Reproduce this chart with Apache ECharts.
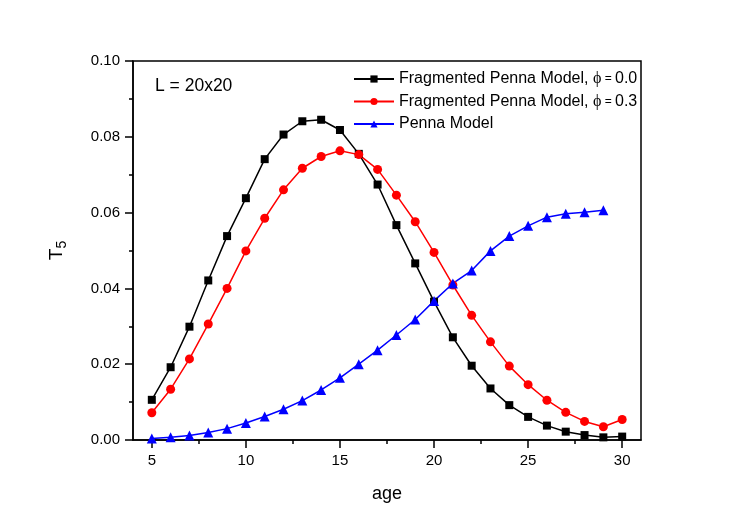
<!DOCTYPE html>
<html>
<head>
<meta charset="utf-8">
<script src="https://cdn.jsdelivr.net/npm/echarts@6/dist/echarts.min.js"></script>
<style>
  html, body { margin: 0; padding: 0; background: #fff; }
  #chart { width: 747px; height: 528px; }
</style>
</head>
<body>
<div id="chart"></div>
<script>
  // data
  var ages = [5, 6, 7, 8, 9, 10, 11, 12, 13, 14, 15, 16, 17, 18, 19, 20, 21, 22, 23, 24, 25, 26, 27, 28, 29, 30];
  var frag00 = [0.0106, 0.0192, 0.0299, 0.0421, 0.0538, 0.0638, 0.0741, 0.0806, 0.0841, 0.0845, 0.0818, 0.0755, 0.0674,
    0.0567, 0.0466, 0.0365, 0.0271, 0.0196, 0.0136, 0.0092, 0.0061, 0.0038, 0.0022, 0.0013, 0.0007, 0.0009];
  var frag03 = [0.0072, 0.0134, 0.0214, 0.0306, 0.0400, 0.0499, 0.0585, 0.0660, 0.0717, 0.0748, 0.0763, 0.0753, 0.0714,
    0.0646, 0.0576, 0.0495, 0.0409, 0.0329, 0.0259, 0.0195, 0.0146, 0.0105, 0.0073, 0.0049, 0.0035, 0.0054];
  var penna = [0.0004, 0.0007, 0.0012, 0.0020, 0.0030, 0.0045, 0.0062, 0.0081, 0.0104, 0.0132, 0.0164, 0.0200, 0.0237,
    0.0277, 0.0318, 0.0367, 0.0413, 0.0447, 0.0499, 0.0538, 0.0565, 0.0588, 0.0597, 0.0601, 0.0606];
  var xMajor = [5, 10, 15, 20, 25, 30];
  var xMinor = [7.5, 12.5, 17.5, 22.5, 27.5];

  var names = ['Fragmented Penna Model, ϕ = 0.0', 'Fragmented Penna Model, ϕ = 0.3', 'Penna Model'];

  function pairs(vals) {
    return vals.map(function (v, i) { return [ages[i], v]; });
  }

  var chart = echarts.init(document.getElementById('chart'));
  var font = 'Liberation Sans, Arial, sans-serif';

  var option = {
    animation: false,
    textStyle: { fontFamily: font, color: '#000' },
    grid: {
      left: 133, right: 106, top: 61, bottom: 88,
      show: true, borderColor: '#000', borderWidth: 1.5
    },
    graphic: [{
      type: 'text', left: 155, top: 77,
      style: { text: 'L = 20x20', fontSize: 17.5, fontFamily: font, fill: '#000' }
    }],
    legend: {
      orient: 'vertical',
      left: 353, top: 71, padding: 0,
      itemWidth: 40, itemHeight: 9, itemGap: 6.5,
      textStyle: {
        fontSize: 16, color: '#000', fontFamily: font,
        rich: {
          f: { fontSize: 16, fontFamily: 'Liberation Serif, DejaVu Serif, serif' },
          e: { fontSize: 12, fontFamily: font }
        }
      },
      formatter: function (n) { return n.replace('ϕ = ', '{f|ϕ}{e| = }'); },
      data: names
    },
    xAxis: [{
      type: 'value', min: 4, max: 31, position: 'bottom',
      name: 'age', nameLocation: 'middle', nameGap: 45,
      nameTextStyle: { fontSize: 18, color: '#000' },
      splitLine: { show: false },
      axisLine: { lineStyle: { color: '#000', width: 1.5 } },
      axisTick: { customValues: xMajor, length: 8, lineStyle: { color: '#000', width: 1.5 } },
      axisLabel: { customValues: xMajor, fontSize: 15, color: '#000', margin: 13 }
    }, {
      type: 'value', min: 4, max: 31, position: 'bottom',
      splitLine: { show: false },
      axisLine: { show: false },
      axisTick: { customValues: xMinor, length: 4, lineStyle: { color: '#000', width: 1.5 } },
      axisLabel: { show: false }
    }],
    yAxis: {
      type: 'value', min: 0, max: 0.1, interval: 0.02,
      name: '{t|T}{s|5}', nameLocation: 'middle', nameGap: 64,
      nameTextStyle: {
        color: '#000',
        rich: {
          t: { fontSize: 19, fontFamily: font },
          s: { fontSize: 14, fontFamily: font, padding: [10, 0, 0, 0] }
        }
      },
      splitLine: { show: false },
      axisLine: { lineStyle: { color: '#000', width: 1.5 } },
      axisTick: { length: 8, lineStyle: { color: '#000', width: 1.5 } },
      minorTick: { show: true, splitNumber: 2, length: 4, lineStyle: { color: '#000', width: 1.5 } },
      axisLabel: {
        fontSize: 15, color: '#000', margin: 13,
        formatter: function (v) { return v.toFixed(2); }
      }
    },
    series: [{
      name: names[0], type: 'line', data: pairs(frag00),
      symbol: 'rect', symbolSize: 8, color: '#000',
      lineStyle: { width: 1.5, color: '#000' }
    }, {
      name: names[1], type: 'line', data: pairs(frag03),
      symbol: 'circle', symbolSize: 9, color: '#ff0000',
      lineStyle: { width: 1.5, color: '#ff0000' }
    }, {
      name: names[2], type: 'line', data: pairs(penna),
      symbol: 'triangle', symbolSize: 10, color: '#0000ff',
      lineStyle: { width: 1.5, color: '#0000ff' }
    }]
  };

  chart.setOption(option);
</script>
</body>
</html>
